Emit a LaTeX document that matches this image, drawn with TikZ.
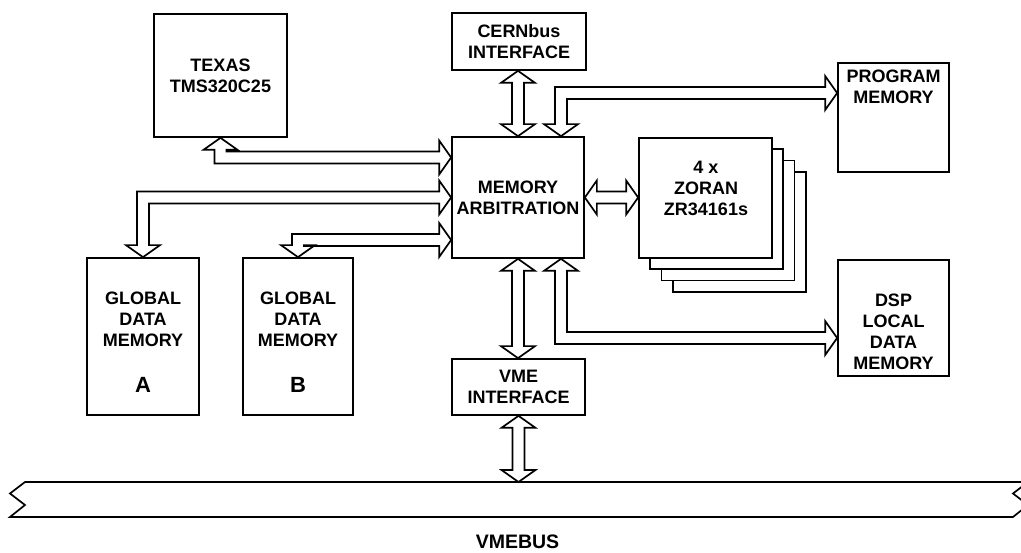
\documentclass[tikz,border=0pt]{standalone}
\usepackage{fontspec}
\setmainfont{Liberation Sans}
\usetikzlibrary{calc}
\newcommand\lbl{\fontsize{18}{21}\selectfont\bfseries}
\newcommand\biglbl{\fontsize{22}{26}\selectfont\bfseries}
\tikzset{
  blk/.style={draw, line width=1.7pt, fill=white, inner sep=0pt, align=center, font=\lbl},
  txt/.style={inner sep=0pt, align=center, font=\lbl},
  hol/.style={draw, line width=1.7pt, fill=white, line join=miter},
}
% vertical double-headed hollow arrow: #1 top tip, #2 bottom tip
\newcommand\vdarrow[2]{%
  \draw[hol] (#1) -- ($(#1)+(17,12)$) -- ($(#1)+(6,12)$) -- ($(#2)+(6,-12)$) -- ($(#2)+(17,-12)$) -- (#2)
    -- ($(#2)+(-17,-12)$) -- ($(#2)+(-6,-12)$) -- ($(#1)+(-6,12)$) -- ($(#1)+(-17,12)$) -- cycle;}
% horizontal double-headed hollow arrow: #1 left tip, #2 right tip
\newcommand\hdarrow[2]{%
  \draw[hol] (#1) -- ($(#1)+(12,-17)$) -- ($(#1)+(12,-6)$) -- ($(#2)+(-12,-6)$) -- ($(#2)+(-12,-17)$) -- (#2)
    -- ($(#2)+(-12,17)$) -- ($(#2)+(-12,6)$) -- ($(#1)+(12,6)$) -- ($(#1)+(12,17)$) -- cycle;}
\begin{document}
\begin{tikzpicture}[x=1pt,y=-1pt]
\useasboundingbox (0,0) rectangle (1021,553);

% boxes
\node[blk, minimum width=133pt, minimum height=123pt] (texas) at (220.5,75.5) {TEXAS\\TMS320C25};
\node[blk, minimum width=134pt, minimum height=57pt] (cern) at (519,41.5) {CERNbus\\INTERFACE};
\node[blk, minimum width=132pt, minimum height=121pt] (ma) at (518,197.5) {MEMORY\\ARBITRATION};
\node[blk, minimum width=111pt, minimum height=109pt] (pm) at (893.5,117.5) {};
\node[txt] (pmt) at (893.5,87) {PROGRAM\\MEMORY};
\node[blk, minimum width=111pt, minimum height=116pt] (dsp) at (893.5,318) {};
\node[txt] (dspt) at (893.5,332) {DSP\\LOCAL\\DATA\\MEMORY};
\node[blk, minimum width=133pt, minimum height=56pt] (vme) at (518.5,387) {VME\\INTERFACE};
\node[blk, minimum width=112pt, minimum height=157pt] (ga) at (143,336.5) {};
\node[txt] (gat) at (143,319) {GLOBAL\\DATA\\MEMORY};
\node[txt, font=\biglbl] (gal) at (143,385) {A};
\node[blk, minimum width=110pt, minimum height=157pt] (gb) at (298,336.5) {};
\node[txt] (gbt) at (298,319) {GLOBAL\\DATA\\MEMORY};
\node[txt, font=\biglbl] (gbl) at (298,385) {B};

% zoran stack
\node[blk, minimum width=133pt, minimum height=120pt] (z3) at (739.4,231.9) {};
\node[blk, minimum width=133pt, minimum height=120pt] (z2) at (728.1,220.6) {};
\node[blk, minimum width=133pt, minimum height=120pt] (z1) at (716.8,209.3) {};
\node[blk, minimum width=133pt, minimum height=120pt] (zf) at (705.5,198) {};
\node[txt] (zt) at (706,188.5) {4 x\\ZORAN\\ZR34161s};

% VME bus
\draw[hol] (25,482) -- (1028,482) -- (1013,493.5) -- (1028,505) -- (1013,517)
  -- (10,517) -- (25,505) -- (10,493.5) -- cycle;
\coordinate (bustop) at (518.5,482);
\node[txt, font=\fontsize{19.5}{22}\selectfont\bfseries] (vmebus) at (517.5,541.5) {VMEBUS};

% straight connectors
\coordinate (a1) at (cern.south -| ma.north);
\vdarrow{a1}{ma.north}
\coordinate (a2) at (vme.north -| ma.south);
\vdarrow{ma.south}{a2}
\vdarrow{vme.south}{bustop}
\coordinate (a3) at (zf.west |- ma.east);
\hdarrow{ma.east}{a3}

% TEXAS <-> MA
\coordinate (T1) at (texas.south);
\coordinate (c1) at (220.5,157.5);
\coordinate (R1) at (ma.west |- c1);
\draw[hol] (T1) -- ($(T1)+(17,12)$) -- ($(T1)+(6,12)$) -- ($(c1)+(6,-6)$) -- ($(R1)+(-12,-6)$) -- ($(R1)+(-12,-17)$) -- (R1)
  -- ($(R1)+(-12,17)$) -- ($(R1)+(-12,6)$) -- ($(c1)+(-6,6)$) -- ($(T1)+(-6,12)$) -- ($(T1)+(-17,12)$) -- cycle;

% Global A <-> MA
\coordinate (D2) at (ga.north);
\coordinate (c2) at (143,197.5);
\coordinate (R2) at (ma.west |- c2);
\draw[hol] (R2) -- ($(R2)+(-12,-17)$) -- ($(R2)+(-12,-6)$) -- ($(c2)+(-6,-6)$) -- ($(D2)+(-6,-12)$) -- ($(D2)+(-17,-12)$) -- (D2)
  -- ($(D2)+(17,-12)$) -- ($(D2)+(6,-12)$) -- ($(c2)+(6,6)$) -- ($(R2)+(-12,6)$) -- ($(R2)+(-12,17)$) -- cycle;

% Global B <-> MA
\coordinate (D3) at (gb.north);
\coordinate (c3) at (298,240);
\coordinate (R3) at (ma.west |- c3);
\draw[hol] (R3) -- ($(R3)+(-12,-17)$) -- ($(R3)+(-12,-6)$) -- ($(c3)+(-6,-6)$) -- ($(D3)+(-6,-12)$) -- ($(D3)+(-17,-12)$) -- (D3)
  -- ($(D3)+(17,-12)$) -- ($(D3)+(6,-12)$) -- ($(c3)+(6,6)$) -- ($(R3)+(-12,6)$) -- ($(R3)+(-12,17)$) -- cycle;

% MA <-> Program memory
\coordinate (c4) at (561,93);
\coordinate (M4) at (ma.north -| c4);
\coordinate (P4) at (pm.west |- c4);
\draw[hol] (M4) -- ($(M4)+(-17,-12)$) -- ($(M4)+(-6,-12)$) -- ($(c4)+(-6,-6)$) -- ($(P4)+(-12,-6)$) -- ($(P4)+(-12,-17)$) -- (P4)
  -- ($(P4)+(-12,17)$) -- ($(P4)+(-12,6)$) -- ($(c4)+(6,6)$) -- ($(M4)+(6,-12)$) -- ($(M4)+(17,-12)$) -- cycle;

% MA <-> DSP local data memory
\coordinate (c5) at (561,338);
\coordinate (M5) at (ma.south -| c5);
\coordinate (P5) at (dsp.west |- c5);
\draw[hol] (M5) -- ($(M5)+(17,12)$) -- ($(M5)+(6,12)$) -- ($(c5)+(6,-6)$) -- ($(P5)+(-12,-6)$) -- ($(P5)+(-12,-17)$) -- (P5)
  -- ($(P5)+(-12,17)$) -- ($(P5)+(-12,6)$) -- ($(c5)+(-6,6)$) -- ($(M5)+(-6,12)$) -- ($(M5)+(-17,12)$) -- cycle;
\end{tikzpicture}
\end{document}
